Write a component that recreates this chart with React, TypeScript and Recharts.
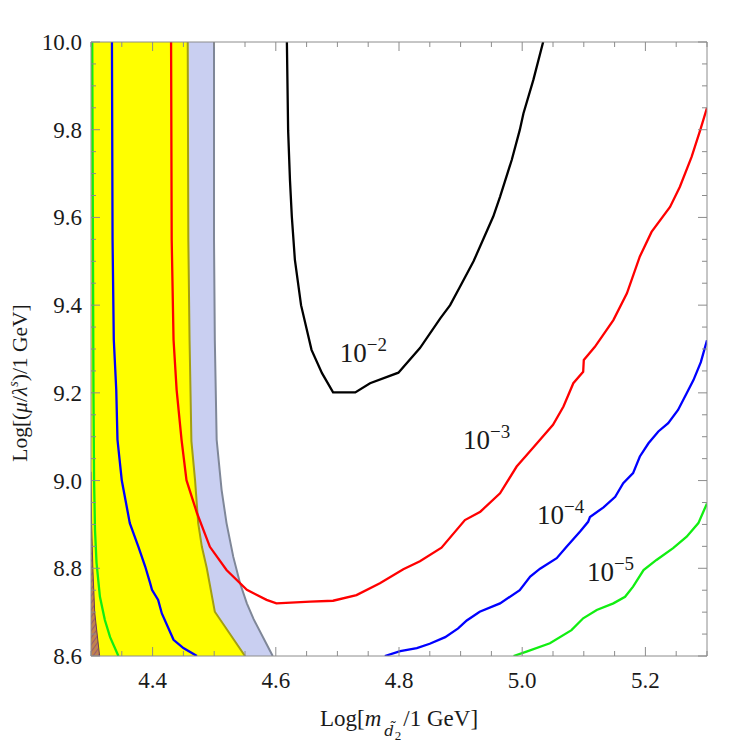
import { ComposedChart, Line, Area, XAxis, YAxis, ReferenceDot } from "recharts";

const FRAME = "#8c8c8c";
const INK = "#1a1a1a";
const FONT = "'Liberation Serif', 'Times New Roman', serif";

// axis ticks
const xMajor = [4.4, 4.6, 4.8, 5.0, 5.2];
const yMajor = [8.6, 8.8, 9.0, 9.2, 9.4, 9.6, 9.8, 10.0];

// shaded regions: right-hand edges, read top to bottom
const lavenderEdge = [
  [4.4997, 10.0], [4.4997, 9.549], [4.501, 9.321], [4.504, 9.093], [4.512, 8.979],
  [4.52, 8.903], [4.531, 8.826], [4.542, 8.766], [4.553, 8.72], [4.564, 8.684], [4.595, 8.6],
];
const yellowEdge = [
  [4.457, 10.0], [4.458, 9.55], [4.46, 9.32], [4.463, 9.09], [4.469, 9.0],
  [4.474, 8.903], [4.48, 8.849], [4.488, 8.8], [4.501, 8.701], [4.55, 8.6],
];
const brownEdge = [[4.3, 9.02], [4.301, 8.9], [4.303, 8.8], [4.306, 8.7], [4.314, 8.6]];

// contours
const greenLeft = [
  [4.302, 10.0], [4.303, 9.6], [4.304, 9.2], [4.305, 9.0], [4.3065, 8.887], [4.309, 8.812],
  [4.3145, 8.735], [4.3225, 8.682], [4.331, 8.643], [4.3445, 8.6],
];
const greenRight = [
  [4.986, 8.6], [5.007, 8.61], [5.045, 8.629], [5.08, 8.659], [5.099, 8.686], [5.121, 8.705],
  [5.148, 8.72], [5.167, 8.735], [5.18, 8.758], [5.197, 8.796], [5.218, 8.819], [5.245, 8.846],
  [5.267, 8.872], [5.286, 8.903], [5.3, 8.948],
];
const blueLeft = [
  [4.334, 10.0], [4.335, 9.549], [4.337, 9.321], [4.341, 9.207], [4.343, 9.093], [4.35, 9.0],
  [4.363, 8.903], [4.377, 8.849], [4.388, 8.804], [4.396, 8.766], [4.399, 8.751], [4.409, 8.728],
  [4.415, 8.697], [4.434, 8.637], [4.45, 8.618], [4.472, 8.6],
];
const blueRight = [
  [4.777, 8.6], [4.802, 8.611], [4.829, 8.618], [4.85, 8.628], [4.875, 8.643], [4.896, 8.663],
  [4.91, 8.681], [4.931, 8.701], [4.964, 8.72], [4.996, 8.75], [5.013, 8.781], [5.029, 8.799],
  [5.056, 8.823], [5.072, 8.849], [5.094, 8.884], [5.107, 8.906], [5.11, 8.917], [5.132, 8.939],
  [5.151, 8.963], [5.164, 8.994], [5.18, 9.017], [5.191, 9.055], [5.205, 9.085], [5.221, 9.112],
  [5.237, 9.131], [5.253, 9.161], [5.267, 9.199], [5.278, 9.229], [5.29, 9.27], [5.3, 9.32],
];
const redLine = [
  [4.43, 10.0], [4.431, 9.549], [4.434, 9.321], [4.439, 9.207], [4.447, 9.093], [4.455, 9.001],
  [4.472, 8.926], [4.493, 8.849], [4.52, 8.796], [4.553, 8.751], [4.585, 8.728], [4.601, 8.72],
  [4.656, 8.724], [4.693, 8.726], [4.731, 8.739], [4.769, 8.766], [4.807, 8.798], [4.834, 8.816],
  [4.869, 8.847], [4.907, 8.91], [4.932, 8.929], [4.964, 8.971], [4.991, 9.032], [5.007, 9.058],
  [5.024, 9.085], [5.05, 9.127], [5.067, 9.169], [5.083, 9.222], [5.099, 9.248], [5.1, 9.275],
  [5.118, 9.305], [5.148, 9.366], [5.17, 9.427], [5.191, 9.511], [5.21, 9.567], [5.24, 9.624],
  [5.256, 9.67], [5.275, 9.738], [5.289, 9.799], [5.3, 9.85],
];
const blackLine = [
  [4.618, 10.0], [4.62, 9.799], [4.623, 9.685], [4.626, 9.602], [4.631, 9.503], [4.641, 9.4],
  [4.658, 9.298], [4.675, 9.245], [4.693, 9.201], [4.729, 9.201], [4.753, 9.222], [4.799, 9.246],
  [4.834, 9.302], [4.867, 9.37], [4.883, 9.4], [4.899, 9.442], [4.921, 9.5], [4.953, 9.602],
  [4.964, 9.647], [4.983, 9.731], [4.996, 9.799], [5.002, 9.837], [5.018, 9.913], [5.034, 10.0],
];

// contour labels (start of "10", baseline)
const labelX = [4.704, 4.904, 5.024, 5.105];
const labelY = [9.27, 9.072, 8.901, 8.77];
const labelExp = ["\u22122", "\u22123", "\u22124", "\u22125"];

const pts = (a: number[][]) => a.map(([x, y]) => ({ x, y }));

function stepTicks(lo: number, hi: number, step: number) {
  const out: number[] = [];
  const n = Math.round((hi - lo) / step);
  for (let i = 0; i <= n; i++) out.push(Math.round((lo + i * step) * 100) / 100);
  return out;
}
const xTicks = stepTicks(4.3, 5.3, 0.05);
const yTicks = stepTicks(8.6, 10.0, 0.05);

const isMajor = (v: number, majors: number[]) => majors.some((m) => Math.abs(m - v) < 1e-6);

function makeTick(side: string, majors: number[], labels: boolean) {
  return (props: any) => {
    const { x, y, payload } = props;
    const v = payload.value as number;
    const major = isMajor(v, majors);
    const len = major ? 9 : 5;
    let x2 = x;
    let y2 = y;
    if (side === "bottom") y2 = y - len;
    else if (side === "top") y2 = y + len;
    else if (side === "left") x2 = x + len;
    else x2 = x - len;
    return (
      <g>
        <line x1={x} y1={y} x2={x2} y2={y2} stroke={FRAME} strokeWidth={1} />
        {labels && major && side === "bottom" && (
          <text x={x} y={y + 32} textAnchor="middle" fontFamily={FONT} fontSize={23} fill={INK}>
            {v.toFixed(1)}
          </text>
        )}
        {labels && major && side === "left" && (
          <text x={x - 9} y={y + 8} textAnchor="end" fontFamily={FONT} fontSize={23} fill={INK}>
            {v.toFixed(1)}
          </text>
        )}
      </g>
    );
  };
}

const XTitle = (props: any) => {
  const vb = props.viewBox;
  const cx = vb.x + vb.width / 2;
  return (
    <text x={cx} y={vb.y + 70} textAnchor="middle" fontFamily={FONT} fontSize={23} fill={INK}>
      Log[<tspan fontStyle="italic">m</tspan>
      <tspan fontStyle="italic" fontFamily="'DejaVu Serif', serif" fontSize={15} dx={3} dy={10}>{"d\u0303"}</tspan>
      <tspan fontSize={13} dx={1} dy={4}>2</tspan>
      <tspan dy={-14} dx={2}>/1 GeV]</tspan>
    </text>
  );
};

const YTitle = (props: any) => {
  const vb = props.viewBox;
  const cx = vb.x + 27;
  const cy = vb.y + vb.height / 2 + 34;
  return (
    <text transform={`translate(${cx},${cy}) rotate(-90)`} textAnchor="middle" fontFamily={FONT} fontSize={21.5} fill={INK}>
      Log[(<tspan fontStyle="italic">μ</tspan>/<tspan fontStyle="italic">λ</tspan>
      <tspan fontStyle="italic" fontSize={14} dy={-9}>s</tspan>
      <tspan dy={9}>)/1 GeV]</tspan>
    </text>
  );
};

const ExpLabel = (props: any) => {
  const vb = props.viewBox;
  const x = vb.x + vb.width / 2;
  const y = vb.y + vb.height / 2;
  return (
    <text x={x} y={y} fontFamily={FONT} fontSize={27} fill={INK}>
      10<tspan fontSize={19} dy={-11}>{props.exp}</tspan>
    </text>
  );
};

const LW = 2.3;

export default function App() {
  const lavenderArea = [{ x: 4.3, y: 10.0 }, ...pts(lavenderEdge)];
  const yellowArea = [{ x: 4.3, y: 10.0 }, ...pts(yellowEdge)];

  return (
    <div style={{ position: "absolute", left: 0, top: 0, background: "#fff" }}>
      <ComposedChart width={750} height={753} margin={{ top: 0, right: 0, bottom: 0, left: 0 }}>
        <defs>
          <pattern id="hatch" width="4" height="4" patternUnits="userSpaceOnUse" patternTransform="rotate(35)">
            <rect width="4" height="4" fill="#c0824e" />
            <line x1="0" y1="0" x2="0" y2="4" stroke="#7b3f86" strokeWidth="1.2" />
          </pattern>
        </defs>

        <Area data={lavenderArea} dataKey="y" type="linear" baseValue="dataMin" fill="#c9cff1" fillOpacity={1} stroke="none" isAnimationActive={false} />
        <Area data={yellowArea} dataKey="y" type="linear" baseValue="dataMin" fill="#ffff00" fillOpacity={1} stroke="none" isAnimationActive={false} />
        <Area data={pts(brownEdge)} dataKey="y" type="linear" baseValue="dataMin" fill="url(#hatch)" fillOpacity={1} stroke="#6b3a5a" strokeWidth={1} isAnimationActive={false} />

        <Line data={pts(lavenderEdge)} dataKey="y" type="linear" stroke="#7f8798" strokeWidth={2} dot={false} activeDot={false} isAnimationActive={false} />
        <Line data={pts(yellowEdge)} dataKey="y" type="linear" stroke="#a39f12" strokeWidth={2} dot={false} activeDot={false} isAnimationActive={false} />

        <Line data={pts(greenLeft)} dataKey="y" type="linear" stroke="#11ee11" strokeWidth={LW} dot={false} activeDot={false} isAnimationActive={false} />
        <Line data={pts(greenRight)} dataKey="y" type="linear" stroke="#11ee11" strokeWidth={LW} dot={false} activeDot={false} isAnimationActive={false} />
        <Line data={pts(blueLeft)} dataKey="y" type="linear" stroke="#0000ff" strokeWidth={LW} dot={false} activeDot={false} isAnimationActive={false} />
        <Line data={pts(blueRight)} dataKey="y" type="linear" stroke="#0000ff" strokeWidth={LW} dot={false} activeDot={false} isAnimationActive={false} />
        <Line data={pts(redLine)} dataKey="y" type="linear" stroke="#ff0000" strokeWidth={LW} dot={false} activeDot={false} isAnimationActive={false} />
        <Line data={pts(blackLine)} dataKey="y" type="linear" stroke="#000000" strokeWidth={LW} dot={false} activeDot={false} isAnimationActive={false} />

        <XAxis
          dataKey="x" type="number" domain={[4.3, 5.3]} allowDataOverflow ticks={xTicks} interval={0}
          height={97} tickSize={0} tickMargin={0} tickLine={false} axisLine={{ stroke: FRAME }}
          tick={makeTick("bottom", xMajor, true)} label={<XTitle />}
        />
        <XAxis
          xAxisId="top" orientation="top" dataKey="x" type="number" domain={[4.3, 5.3]} allowDataOverflow
          ticks={xTicks} interval={0} height={42} tickSize={0} tickMargin={0} tickLine={false}
          axisLine={{ stroke: FRAME }} tick={makeTick("top", xMajor, false)}
        />
        <YAxis
          type="number" domain={[8.6, 10.0]} allowDataOverflow ticks={yTicks} interval={0}
          width={91} tickSize={0} tickMargin={0} tickLine={false} axisLine={{ stroke: FRAME }}
          tick={makeTick("left", yMajor, true)} label={<YTitle />}
        />
        <YAxis
          yAxisId="right" orientation="right" type="number" domain={[8.6, 10.0]} allowDataOverflow
          ticks={yTicks} interval={0} width={43} tickSize={0} tickMargin={0} tickLine={false}
          axisLine={{ stroke: FRAME }} tick={makeTick("right", yMajor, false)}
        />

        {labelX.map((lx, i) => (
          <ReferenceDot key={i} x={lx} y={labelY[i]} r={0} fill="none" stroke="none" label={<ExpLabel exp={labelExp[i]} />} />
        ))}
      </ComposedChart>
    </div>
  );
}
